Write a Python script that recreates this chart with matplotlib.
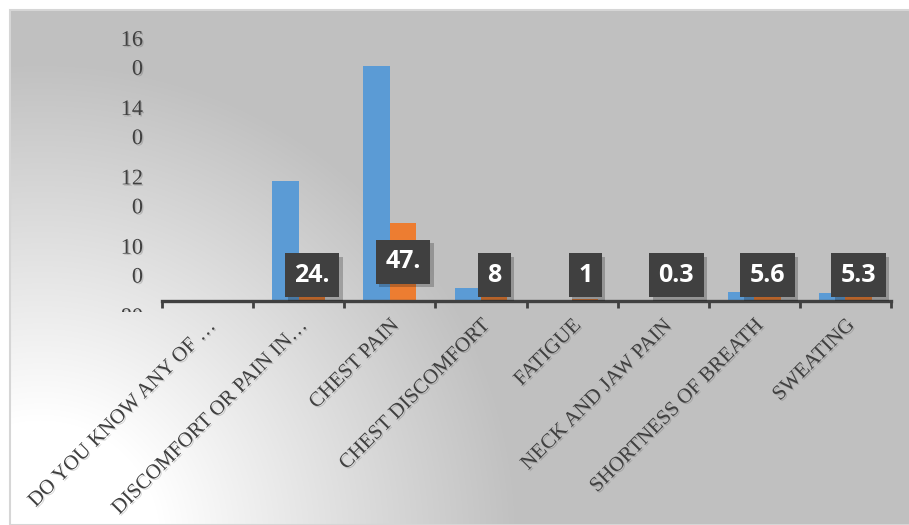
import numpy as np
import matplotlib
matplotlib.use("Agg")
import matplotlib.pyplot as plt
import matplotlib.patheffects as pe
from matplotlib.patches import Rectangle
from matplotlib.transforms import Bbox, offset_copy

categories = ["DO YOU KNOW ANY OF …", "DISCOMFORT OR PAIN IN…", "CHEST PAIN",
              "CHEST DISCOMFORT", "FATIGUE", "NECK AND JAW PAIN",
              "SHORTNESS OF BREATH", "SWEATING"]
blue_vals = [0, 73, 143.3, 7.6, 0, 0, 5.4, 4.8]
orange_vals = [0, 24.5, 47.5, 8, 1, 0.3, 5.6, 5.3]
orange_labels = ["", "24.", "47.", "8", "1", "0.3", "5.6", "5.3"]
ytick_vals = [80, 100, 120, 140, 160]
ytick_labels = ["80\n", "10\n0", "12\n0", "14\n0", "16\n0"]

W, H = 909, 525
fig = plt.figure(figsize=(W / 100, H / 100), dpi=100)
fig.patch.set_facecolor("white")

# ---- gradient background (light in the lower left corner) ----
bg = fig.add_axes([10 / W, 0, (W - 10) / W, (H - 10) / H], zorder=-5)
xs = np.arange(10, W)
ys = np.arange(10, H)
gx, gy = np.meshgrid(xs, ys)
d = np.hypot(gx - 40, gy - 540)
t = np.clip((d - 120) / 360, 0, 1)
shade = 255 - t * (255 - 192)
img = np.dstack([shade, shade, shade]) / 255
bg.imshow(img, aspect="auto", extent=[0, 1, 0, 1], interpolation="bilinear")
bg.set_axis_off()
fig.patches.append(Rectangle((9.5 / W, 0), (W - 9) / W, (H - 9.5) / H,
                             transform=fig.transFigure, fill=False,
                             ec="#d6d6d6", lw=1.5, zorder=-4))

# ---- bars ----
base_y = 300.5
top_y = 30
ax = fig.add_axes([162 / W, (H - base_y) / H, (891 - 162) / W, (base_y - top_y) / H])
ax.patch.set_alpha(0)
x = np.arange(len(categories))
bw = 0.29
ax.bar(x - bw / 2, blue_vals, bw, color="#5b9bd5", zorder=2)
ax.bar(x + bw / 2, orange_vals, bw, color="#ed7d31", zorder=2)
ax.set_xlim(-0.5, len(categories) - 0.5)
ax.set_ylim(0, 165.1)
ax.set_yticks([])
for s in ["top", "right", "left"]:
    ax.spines[s].set_visible(False)
ax.spines["bottom"].set_color("#404040")
ax.spines["bottom"].set_linewidth(2.4)
ax.spines["bottom"].set_zorder(3)

ax.set_xticks(np.arange(-0.5, len(categories)), [""] * (len(categories) + 1))
ax.set_xticks(x, categories, minor=True)
ax.tick_params(axis="x", which="major", length=5, width=2, color="#404040")
ax.tick_params(axis="x", which="minor", length=0, pad=11)
shadow = [pe.withSimplePatchShadow(offset=(1, -1), shadow_rgbFace="#000000", alpha=0.15)]
for lbl in ax.get_xticklabels(minor=True):
    lbl.set_rotation(45)
    lbl.set_rotation_mode("anchor")
    lbl.set_ha("right")
    lbl.set_va("top")
    lbl.set_fontfamily("Liberation Serif")
    lbl.set_fontsize(15)
    lbl.set_color("#404040")
    lbl.set_path_effects(shadow)

# data labels on the orange series
for xi, v, s in zip(x, orange_vals, orange_labels):
    if not s:
        continue
    ypos = max(v / 2, 15.3)
    txt = ax.text(xi + bw / 2, ypos, s, ha="center", va="center",
                  fontfamily="Open Sans", fontweight="bold", fontsize=18,
                  color="white", zorder=5,
                  bbox=dict(boxstyle="square,pad=0.38", fc="#404040", ec="none"))
    txt.get_bbox_patch().set_path_effects(
        [pe.withSimplePatchShadow(offset=(2.5, -2.5), alpha=0.25)])

# ---- y axis labels (wrapped onto two lines, bottom one clipped) ----
lab_top = 30
lab_bottom = 345
lax = fig.add_axes([162 / W, (H - lab_bottom) / H, (891 - 162) / W, (lab_bottom - lab_top) / H])
lax.set_axis_off()
lax.set_ylim(75.73, 166.64)
clip = Bbox.from_extents(0, H - 311.5, W, H)
step = 29      # px between wrapped lines
digit_h = 14.5  # px, cap height of the digits
for val, lab in zip(ytick_vals, ytick_labels):
    lines = lab.split("\n")
    n = len(lines)
    for i, line in enumerate(lines):
        if not line:
            continue
        dy = (i - (n - 1) / 2) * step + digit_h / 2
        tr = offset_copy(lax.get_yaxis_transform(), fig=fig, x=-19, y=-dy, units="dots")
        lt = lax.text(0, val, line, transform=tr, ha="right", va="baseline",
                      fontfamily="Liberation Serif", fontsize=16, color="#404040",
                      path_effects=shadow)
        lt.set_clip_on(True)
        lt.set_clip_box(clip)

fig.savefig("out.png", dpi=100)
